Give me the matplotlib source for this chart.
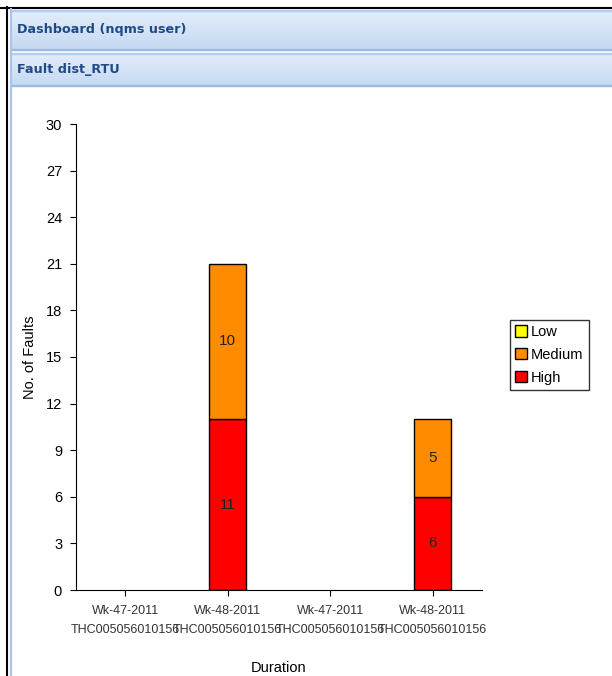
import numpy as np
import matplotlib
matplotlib.use('Agg')
import matplotlib.pyplot as plt
from matplotlib.patches import Rectangle, Patch

plt.rcParams['font.family'] = ['Liberation Sans', 'DejaVu Sans']

# data
categories = ['Wk-47-2011\nTHC005056010156', 'Wk-48-2011\nTHC005056010156',
              'Wk-47-2011\nTHC005056010156', 'Wk-48-2011\nTHC005056010156']
low = [0, 0, 0, 0]
medium = [0, 10, 0, 5]
high = [0, 11, 0, 6]
yticks = [0, 3, 6, 9, 12, 15, 18, 21, 24, 27, 30]

W, H = 612, 676
fig = plt.figure(figsize=(W / 100, H / 100), dpi=100)

# background / dashboard frame (pixel coords)
bg = fig.add_axes([0, 0, 1, 1])
bg.set_xlim(0, W)
bg.set_ylim(H, 0)
bg.axis('off')

def header(y0, y1, text):
    grad = np.linspace(0, 1, 50).reshape(-1, 1)
    top = np.array([0.89, 0.93, 0.98])
    bot = np.array([0.77, 0.85, 0.95])
    img = top + (bot - top) * grad[..., None]
    img = np.repeat(img, 2, axis=1)
    bg.imshow(img, extent=[11, W, y1, y0], aspect='auto', zorder=1)
    bg.add_patch(Rectangle((11, y1 - 1.5), W, 1.5, color='#9bbbe5', zorder=2))
    bg.add_patch(Rectangle((11, y0), W, 1.2, color='#b4cdee', zorder=2))
    bg.text(17, (y0 + y1) / 2, text, fontsize=9.2, fontweight='bold',
            color='#1f4a87', va='center', ha='left', family=['DejaVu Sans'], zorder=3)

header(10, 50, 'Dashboard (nqms user)')
header(53, 86, 'Fault dist_RTU')

bg.plot([0, W], [7.5, 7.5], color='black', lw=1.5, zorder=4)
bg.plot([7, 7], [7, H], color='black', lw=1.5, zorder=4)
bg.plot([10.5, 10.5], [9, H], color='#a9c4ea', lw=1.5, zorder=4)

# chart
ax = fig.add_axes([76 / W, 1 - 590 / H, 406 / W, 466 / H])
x = np.arange(len(categories))
bw = 0.36
for i in range(len(categories)):
    segs = [(high[i], 0, '#ff0000'), (medium[i], high[i], '#ff8c00'),
            (low[i], high[i] + medium[i], '#ffff00')]
    for val, base, col in segs:
        if val:
            ax.bar(x[i], val, bw, bottom=base, color=col, edgecolor='black', lw=1)
            ax.text(x[i], base + val / 2, str(val), ha='center', va='center',
                    fontsize=11, color='#222222')

ax.set_xlim(-0.48, 3.48)
ax.set_ylim(0, 30)
ax.set_yticks(yticks)
ax.set_xticks(x)
ax.set_xticklabels(categories, fontsize=9, color='#333333', linespacing=1.75)
ax.tick_params(axis='y', labelsize=10.5, length=4, colors='black', pad=6)
ax.tick_params(axis='x', length=4, pad=7)
ax.spines['top'].set_visible(False)
ax.spines['right'].set_visible(False)
ax.set_ylabel('No. of Faults', fontsize=10.5, labelpad=6)
ax.set_xlabel('Duration', fontsize=10.5, labelpad=18)

handles = [Patch(facecolor='#ffff00', edgecolor='black', label='Low'),
           Patch(facecolor='#ff8c00', edgecolor='black', label='Medium'),
           Patch(facecolor='#ff0000', edgecolor='black', label='High')]
leg = fig.legend(handles=handles, loc='upper left', bbox_to_anchor=(510 / W, 1 - 320 / H),
                 fontsize=10.5, frameon=True, fancybox=False, handlelength=0.8,
                 handleheight=0.8, handletextpad=0.3, borderpad=0.35, labelspacing=0.6,
                 borderaxespad=0)
leg.get_frame().set_edgecolor('black')
leg.get_frame().set_linewidth(1)

fig.savefig('out.png', dpi=100)
